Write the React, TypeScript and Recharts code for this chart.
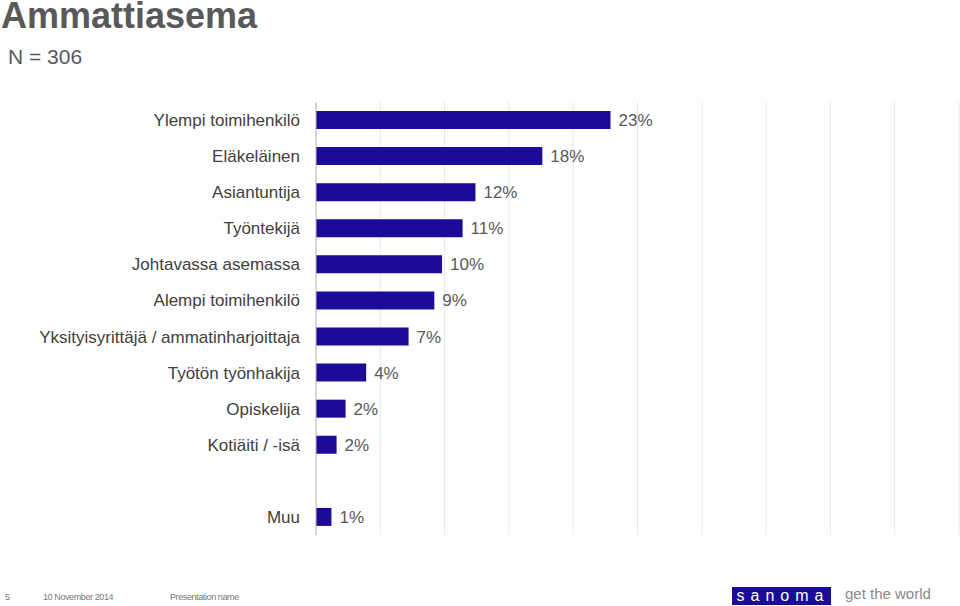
import React from 'react';
import { BarChart, Bar, XAxis, YAxis, CartesianGrid, LabelList } from 'recharts';

const categories = [
  'Ylempi toimihenkilö',
  'Eläkeläinen',
  'Asiantuntija',
  'Työntekijä',
  'Johtavassa asemassa',
  'Alempi toimihenkilö',
  'Yksityisyrittäjä / ammatinharjoittaja',
  'Työtön työnhakija',
  'Opiskelija',
  'Kotiäiti / -isä',
  '',
  'Muu',
];
const values: (number | null)[] = [22.9, 17.6, 12.4, 11.4, 9.8, 9.2, 7.2, 3.9, 2.3, 1.6, null, 1.2];
const xTicks = [0, 5, 10, 15, 20, 25, 30, 35, 40, 45, 50];

const data = categories.map((name, i) => ({ key: `c${i}`, name, value: values[i] }));

const BAR = '#1c0a98';
const TEXT = '#595959';
const FONT = 'Arial, "Liberation Sans", Helvetica, sans-serif';

export default function App() {
  return (
    <div style={{ position: 'absolute', left: 0, top: 0, width: 960, height: 606, background: '#fff', fontFamily: FONT, overflow: 'hidden' }}>
      <div style={{ position: 'absolute', left: 1, top: 0, fontSize: 36, lineHeight: '32px', fontWeight: 'bold', color: TEXT, whiteSpace: 'nowrap' }}>Ammattiasema</div>
      <div style={{ position: 'absolute', left: 8, top: 45, fontSize: 21, color: TEXT, whiteSpace: 'nowrap' }}>N = 306</div>
      <div style={{ position: 'absolute', left: 0, top: 0 }}>
        <BarChart
          width={960}
          height={606}
          data={data}
          layout="vertical"
          margin={{ top: 102, right: 1, bottom: 71, left: 0 }}
          barCategoryGap={0}
        >
          <CartesianGrid horizontal={false} vertical={true} stroke="#e8e8e8" strokeWidth={1} />
          <XAxis
            type="number"
            domain={[0, 50]}
            ticks={xTicks}
            height={0}
            axisLine={false}
            tickLine={false}
            tick={{ fill: 'none', fontSize: 1 }}
          />
          <YAxis
            type="category"
            dataKey="key"
            width={316}
            axisLine={{ stroke: '#bdbdbd', strokeWidth: 1 }}
            tickLine={false}
            tickSize={0}
            tickMargin={16}
            interval={0}
            tickFormatter={(v: string) => {
              const idx = Number(String(v).slice(1));
              return categories[idx];
            }}
            tick={{ fill: '#404040', fontSize: 17, fontFamily: FONT }}
          />
          <Bar dataKey="value" fill={BAR} barSize={18} isAnimationActive={false}>
            <LabelList
              dataKey="value"
              position="right"
              offset={8}
              fill={TEXT}
              fontSize={17}
              fontFamily={FONT}
              formatter={(v: any) => (v == null ? '' : `${Math.round(v)}%`)}
            />
          </Bar>
        </BarChart>
      </div>
      <div style={{ position: 'absolute', left: 5, top: 592, fontSize: 9, color: '#777', whiteSpace: 'nowrap' }}>5</div>
      <div style={{ position: 'absolute', left: 43, top: 592, fontSize: 9, color: '#777', whiteSpace: 'nowrap', letterSpacing: -0.4 }}>10 November 2014</div>
      <div style={{ position: 'absolute', left: 170, top: 592, fontSize: 9, color: '#777', whiteSpace: 'nowrap', letterSpacing: -0.4 }}>Presentation name</div>
      <div style={{ position: 'absolute', left: 732, top: 587, width: 99, height: 18, background: BAR, color: '#fff', fontSize: 16, lineHeight: '18px', textAlign: 'center', letterSpacing: 6, whiteSpace: 'nowrap', paddingLeft: 3, boxSizing: 'border-box' }}>sanoma</div>
      <div style={{ position: 'absolute', left: 845, top: 585, fontSize: 15, color: '#8a8a8a', whiteSpace: 'nowrap' }}>get the world</div>
    </div>
  );
}
